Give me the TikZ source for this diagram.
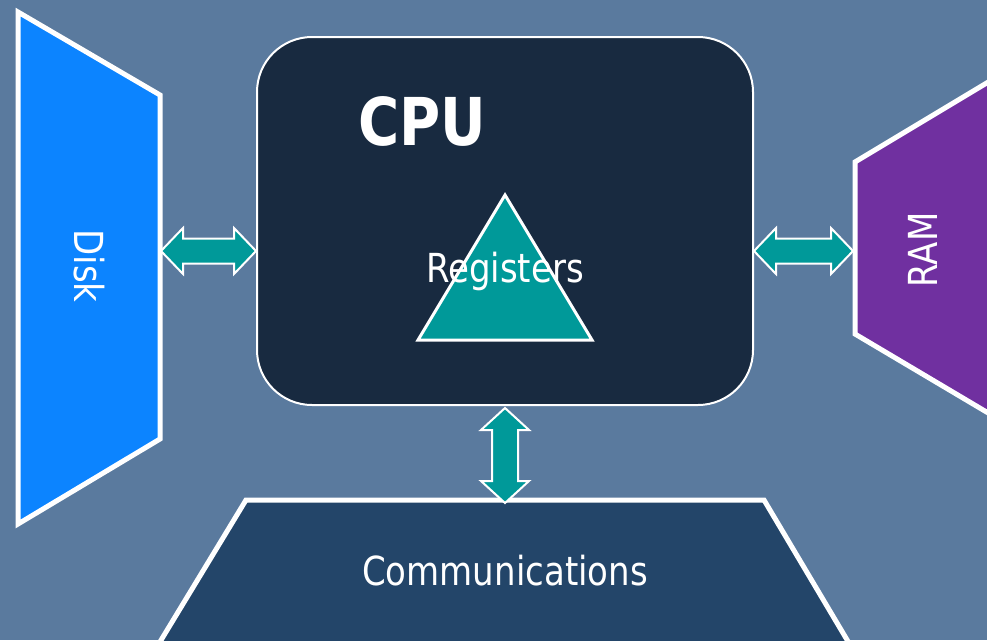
\documentclass[tikz,border=0pt]{standalone}
\usepackage{fontspec}
\setmainfont[FakeStretch=0.85]{DejaVu Sans}
\usetikzlibrary{calc}
\definecolor{bgblue}{RGB}{90,122,158}
\definecolor{diskblue}{RGB}{12,132,255}
\definecolor{rampurple}{RGB}{112,48,160}
\definecolor{cpunavy}{RGB}{24,42,64}
\definecolor{commnavy}{RGB}{35,69,105}
\definecolor{tealc}{RGB}{0,153,153}
\tikzset{
  bigshape/.style={draw=white, line width=5pt},
  cpubox/.style={draw=white, line width=2pt, fill=cpunavy, rounded corners=55pt, inner sep=0pt},
  tri/.style={draw=white, line width=3pt, fill=tealc},
  arrowfill/.style={draw=white, line width=2pt, fill=tealc, line join=miter},
  lbl/.style={text=white, inner sep=0pt, font=\fontsize{40}{48}\selectfont},
  cpulbl/.style={text=white, inner sep=0pt, font=\fontsize{66}{72}\selectfont\bfseries}
}
\newcommand\hdblarrow[2]{%
  \path[arrowfill] (#1) -- ($(#1)+(22,-23)$) -- ($(#1)+(22,-12.5)$) -- ($(#2)+(-22,-12.5)$) -- ($(#2)+(-22,-23)$) -- (#2)
    -- ($(#2)+(-22,23)$) -- ($(#2)+(-22,12.5)$) -- ($(#1)+(22,12.5)$) -- ($(#1)+(22,23)$) -- cycle;}
\newcommand\vdblarrow[2]{%
  \path[arrowfill] (#1) -- ($(#1)+(24,22)$) -- ($(#1)+(13,22)$) -- ($(#2)+(13,-22)$) -- ($(#2)+(24,-22)$) -- (#2)
    -- ($(#2)+(-24,-22)$) -- ($(#2)+(-13,-22)$) -- ($(#1)+(-13,22)$) -- ($(#1)+(-24,22)$) -- cycle;}
\begin{document}
\begin{tikzpicture}[x=1pt,y=-1pt]
\useasboundingbox (0,0) rectangle (987,640);
\clip (0,0) rectangle (987,640);
\fill[bgblue] (0,0) rectangle (987,640);

% Disk
\draw[bigshape, fill=diskblue] (18,12) -- (160,95) -- (160,439) -- (18,524) -- cycle;
\node[lbl, rotate=-90] (disk) at (89,266) {Disk};
\coordinate (diskE) at (161,251);

% RAM
\draw[bigshape, fill=rampurple] (855,162) -- (1000,75) -- (1000,420) -- (855,334) -- cycle;
\node[lbl, rotate=90] (ram) at (923,250) {RAM};
\coordinate (ramW) at (853,251);

% Communications
\draw[bigshape, fill=commnavy] (149,660) -- (246,500) -- (764,500) -- (859,660) -- cycle;
\node[lbl, anchor=base] (comm) at (505,585) {Communications};
\coordinate (commN) at (505,503);

% CPU
\node[cpubox, minimum width=496pt, minimum height=368pt] (cpu) at (505,221) {};
\node[cpulbl, anchor=base] (cpulabel) at (422,145) {CPU};
\coordinate (cpuW) at ($(cpu.west)+(0,30)$);
\coordinate (cpuE) at ($(cpu.east)+(0,30)$);
\coordinate (cpuS) at ($(cpu.south)+(0,2)$);

% Registers
\draw[tri] (418,340) -- (505,195) -- (592,340) -- cycle;
\node[lbl, anchor=base] (reg) at (505,282) {Registers};

% Arrows
\hdblarrow{diskE}{cpuW}
\hdblarrow{cpuE}{ramW}
\vdblarrow{cpuS}{commN}
\end{tikzpicture}
\end{document}
